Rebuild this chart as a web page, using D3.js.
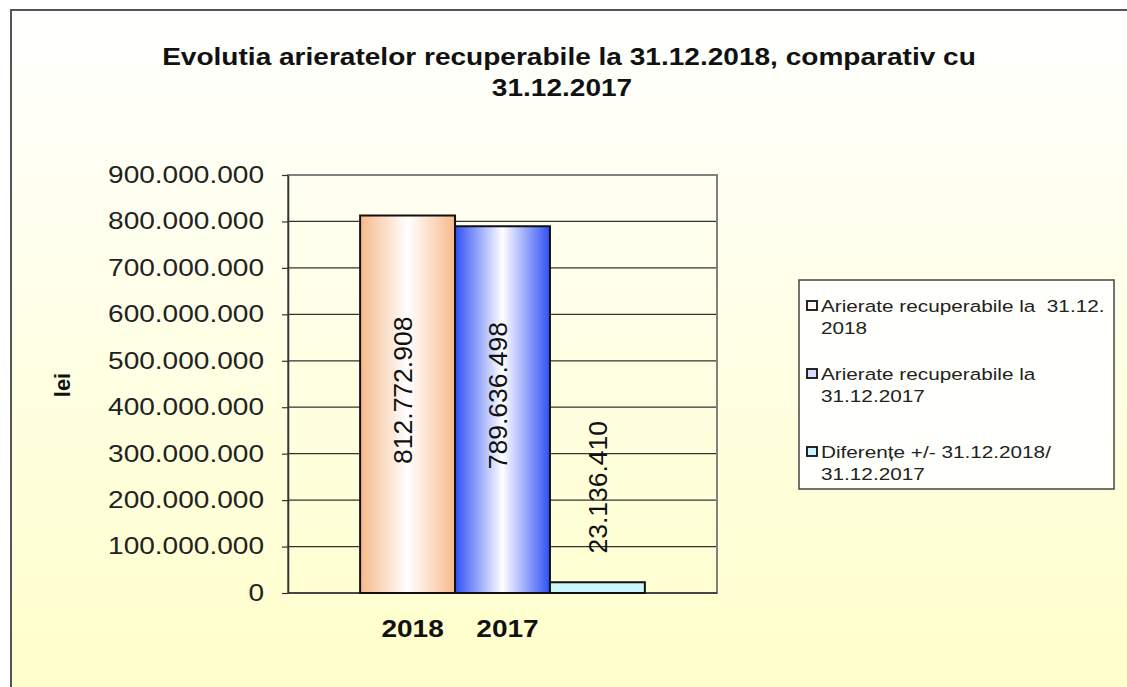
<!DOCTYPE html>
<html>
<head>
<meta charset="utf-8">
<script src="https://cdn.jsdelivr.net/npm/d3@7.9.0/dist/d3.min.js"></script>
<style>
  html, body { margin: 0; padding: 0; background: #fff; }
  svg { display: block; font-family: "Liberation Sans", Arial, sans-serif; }
</style>
</head>
<body>
<svg id="chart" width="1127" height="687"></svg>
<script>
// chart data
const categories = ["2018", "2017"];
const values = [812772908, 789636498, 23136410];
const seriesColors = ["#f7b98a", "#3050f6", "#ccf6fb"];
const legendLines = [
  ["Arierate recuperabile la  31.12.", "2018"],
  ["Arierate recuperabile la", "31.12.2017"],
  ["Diferențe +/- 31.12.2018/", "31.12.2017"]
];
const legendSwatch = ["#fff6ee", "#d8dcff", "#ccf6fb"];
const yTicks = [0, 100e6, 200e6, 300e6, 400e6, 500e6, 600e6, 700e6, 800e6, 900e6];
const titleLines = ["Evolutia arieratelor recuperabile la 31.12.2018, comparativ cu", "31.12.2017"];

// text in the original is stretched sideways
const SX = 1.22;

const ro = d3.formatLocale({ decimal: ",", thousands: ".", grouping: [3], currency: ["", ""] });
const fmt = ro.format(",d");

const svg = d3.select("#chart");
const defs = svg.append("defs");

// background gradient, white to pale yellow
let bg = defs.append("linearGradient").attr("id", "bg").attr("x1", 0).attr("y1", 0).attr("x2", 0).attr("y2", 1);
bg.append("stop").attr("offset", "0%").attr("stop-color", "#ffffff");
bg.append("stop").attr("offset", "100%").attr("stop-color", "#ffffc9");

seriesColors.forEach((c, i) => {
  let g = defs.append("linearGradient").attr("id", "bar" + i).attr("x1", 0).attr("x2", 1).attr("y1", 0).attr("y2", 0);
  if (i < 2) {
    g.append("stop").attr("offset", "0%").attr("stop-color", c);
    g.append("stop").attr("offset", "50%").attr("stop-color", "#ffffff");
    g.append("stop").attr("offset", "100%").attr("stop-color", c);
  } else {
    g.append("stop").attr("offset", "0%").attr("stop-color", c);
    g.append("stop").attr("offset", "100%").attr("stop-color", c);
  }
});

svg.append("rect")
  .attr("x", 11).attr("y", 10).attr("width", 1140).attr("height", 700)
  .attr("fill", "url(#bg)").attr("stroke", "#555").attr("stroke-width", 2);

function stretchText(sel, x, y) {
  return sel.attr("transform", `translate(${x},${y}) scale(${SX},1)`);
}

// title
titleLines.forEach((t, i) => {
  svg.append("text")
    .call(stretchText, i === 0 ? 569 : 562, 65 + i * 31)
    .attr("text-anchor", "middle")
    .attr("font-weight", "bold")
    .attr("font-size", 23)
    .attr("fill", "#111")
    .text(t);
});

const plot = { left: 288, right: 717, top: 175, bottom: 593 };

const y = d3.scaleLinear().domain([0, 900e6]).range([plot.bottom, plot.top]);
const x = d3.scaleBand().domain(values.map((d, i) => i))
  .range([plot.left, plot.right]).paddingInner(0).paddingOuter(0.76);

// gridlines
svg.append("g")
  .selectAll("line")
  .data(yTicks.slice(1))
  .join("line")
  .attr("x1", plot.left).attr("x2", plot.right)
  .attr("y1", d => y(d)).attr("y2", d => y(d))
  .attr("stroke", "#333").attr("stroke-width", 1.2);

// plot border
svg.append("rect")
  .attr("x", plot.left).attr("y", plot.top)
  .attr("width", plot.right - plot.left).attr("height", plot.bottom - plot.top)
  .attr("fill", "none").attr("stroke", "#808080").attr("stroke-width", 2);

// y axis
let yAxis = svg.append("g")
  .attr("transform", `translate(${plot.left},0)`)
  .call(d3.axisLeft(y).tickValues(yTicks).tickSize(6).tickSizeOuter(0).tickFormat(fmt));
yAxis.select(".domain").attr("stroke", "#333").attr("stroke-width", 1.5);
yAxis.selectAll(".tick line").attr("stroke", "#333").attr("stroke-width", 1.2);
yAxis.selectAll(".tick text")
  .attr("x", null)
  .attr("transform", `translate(-24,0) scale(${SX},1)`)
  .attr("font-size", 23)
  .attr("font-family", "Liberation Sans, Arial, sans-serif")
  .attr("fill", "#222");

// x baseline
svg.append("line")
  .attr("x1", plot.left).attr("x2", plot.right)
  .attr("y1", y(0)).attr("y2", y(0))
  .attr("stroke", "#333").attr("stroke-width", 1.5);

// bars
svg.append("g")
  .selectAll("rect")
  .data(values)
  .join("rect")
  .attr("x", (d, i) => x(i))
  .attr("y", d => y(d))
  .attr("width", x.bandwidth())
  .attr("height", d => y(0) - y(d))
  .attr("fill", (d, i) => `url(#bar${i})`)
  .attr("stroke", "#111").attr("stroke-width", 2);

// value labels, rotated
svg.append("g")
  .selectAll("text")
  .data(values)
  .join("text")
  .attr("transform", (d, i) => {
    let cx = x(i) + x.bandwidth() / 2 + (i < 2 ? -5 : 0);
    let cy = i < 2 ? (y(d) + y(0)) / 2 - 14 : y(d) - 95;
    return `translate(${cx},${cy}) rotate(-90)`;
  })
  .attr("text-anchor", "middle")
  .attr("dy", "0.35em")
  .attr("font-size", 26.5)
  .attr("fill", "#111")
  .text(d => fmt(d));

// category labels
svg.append("g")
  .selectAll("text")
  .data(categories)
  .join("text")
  .each(function (d, i) {
    d3.select(this).call(stretchText, x(i) + x.bandwidth() / 2 + 5, 637);
  })
  .attr("text-anchor", "middle")
  .attr("font-weight", "bold")
  .attr("font-size", 23)
  .attr("fill", "#111")
  .text(d => d);

// y axis title
svg.append("text")
  .attr("transform", "translate(62,385) rotate(-90)")
  .attr("text-anchor", "middle")
  .attr("dy", "0.35em")
  .attr("font-weight", "bold")
  .attr("font-size", 22)
  .attr("fill", "#111")
  .text("lei");

// legend
let legend = svg.append("g");
legend.append("rect")
  .attr("x", 799).attr("y", 280).attr("width", 315).attr("height", 209)
  .attr("fill", "#fffffb").attr("stroke", "#444").attr("stroke-width", 1.5);

const itemTop = [306, 374, 452];
legendLines.forEach((lines, i) => {
  legend.append("rect")
    .attr("x", 807).attr("y", itemTop[i] - 5).attr("width", 10).attr("height", 9)
    .attr("fill", legendSwatch[i]).attr("stroke", "#111").attr("stroke-width", 1.8);
  lines.forEach((t, j) => {
    legend.append("text")
      .call(stretchText, 821, itemTop[i] + j * 22)
      .attr("dy", "0.35em")
      .attr("font-size", 17)
      .attr("fill", "#222")
      .attr("xml:space", "preserve")
      .style("white-space", "pre")
      .text(t);
  });
});
</script>
</body>
</html>
